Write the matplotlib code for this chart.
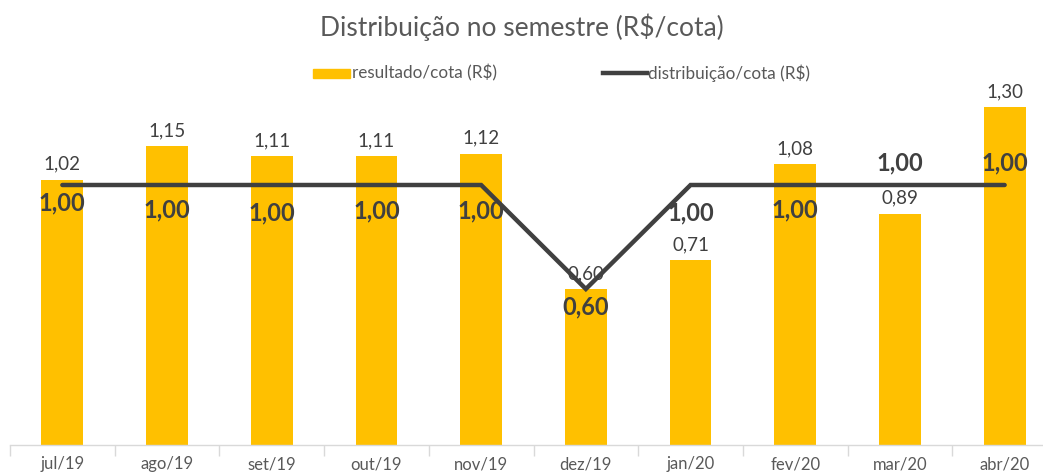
import numpy as np
import matplotlib.pyplot as plt

plt.rcParams['font.family'] = ['Lato', 'DejaVu Sans']

# chart data
meses = ["jul/19", "ago/19", "set/19", "out/19", "nov/19",
         "dez/19", "jan/20", "fev/20", "mar/20", "abr/20"]
resultado = [1.02, 1.15, 1.11, 1.11, 1.12, 0.60, 0.71, 1.08, 0.89, 1.30]
distribuicao = [1.00, 1.00, 1.00, 1.00, 1.00, 0.60, 1.00, 1.00, 1.00, 1.00]

# vertical offsets (points) for the bold distribution labels
dist_dy = [-13, -18, -20, -19, -19, -13, -20, -18, 16, 16]

amarelo = "#FFC000"
cinza = "#404040"

fig = plt.figure(figsize=(10.43, 4.73), dpi=100)
ax = fig.add_axes([10 / 1043, 1 - 445 / 473, 1047 / 1043, 390 / 473])

x = np.arange(len(meses))
ax.bar(x, resultado, width=0.4, color=amarelo, zorder=2)
ax.plot(x, distribuicao, color=cinza, lw=3.2, solid_capstyle="round",
        solid_joinstyle="miter", zorder=3)

for xi, v in zip(x, resultado):
    ax.annotate(f"{v:.2f}".replace(".", ","), (xi, v), xytext=(0, 5),
                textcoords="offset points", ha="center", va="bottom",
                fontsize=13.5, color=cinza, zorder=4)

for xi, v, dy in zip(x, distribuicao, dist_dy):
    ax.annotate(f"{v:.2f}".replace(".", ","), (xi, v), xytext=(0, dy),
                textcoords="offset points", ha="center", va="center",
                fontsize=17, fontweight="bold", color=cinza, zorder=4)

ax.set_xlim(-0.5, len(meses) - 0.5)
ax.set_ylim(0, 1.5)
ax.set_yticks([])
ax.set_xticks(x)
ax.set_xticklabels(meses, fontsize=12, color="#595959")
ax.tick_params(axis="x", which="major", length=0, pad=8)
ax.set_xticks(np.arange(len(meses) + 1) - 0.5, minor=True)
ax.tick_params(axis="x", which="minor", length=8, color="#d9d9d9", width=1)
for s in ["top", "right", "left"]:
    ax.spines[s].set_visible(False)
ax.spines["bottom"].set_color("#d9d9d9")
ax.spines["bottom"].set_linewidth(1)

fig.text(0.5, 1 - 27 / 473, "Distribuição no semestre (R$/cota)",
         ha="center", va="center", fontsize=19, color="#595959")

# legend
fig.patches.append(plt.Rectangle((313 / 1043, 1 - 78 / 473), 37 / 1043, 9 / 473,
                                 transform=fig.transFigure, color=amarelo))
fig.text(352 / 1043, 1 - 73 / 473, "resultado/cota (R$)", ha="left", va="center",
         fontsize=12.3, color="#595959")
fig.lines.append(plt.Line2D([603 / 1043, 647 / 1043], [1 - 73 / 473] * 2,
                            transform=fig.transFigure, color=cinza, lw=3.2))
fig.text(648 / 1043, 1 - 73 / 473, "distribuição/cota (R$)", ha="left", va="center",
         fontsize=12.3, color="#595959")

fig.savefig("out.png", dpi=100)
